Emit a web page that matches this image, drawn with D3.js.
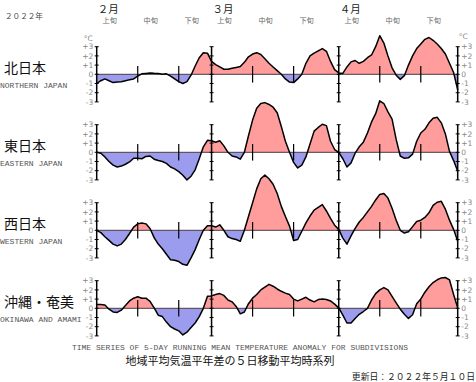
<!DOCTYPE html>
<html><head><meta charset="utf-8">
<script src="https://cdn.jsdelivr.net/npm/d3@7"></script>
<style>body{margin:0;background:#fff}svg{display:block}</style>
</head><body><svg id="c" width="476" height="382"></svg>
<script>
// Daily 5-day running mean anomaly (°C), 2022-02-01 .. 2022-04-30
const north = [-1.0,-0.7,-0.5,-0.7,-0.9,-0.85,-0.8,-0.7,-0.6,-0.5,-0.2,0.05,0.1,0.15,0.12,0.1,0.0,0.05,-0.2,-0.5,
  -0.8,-1.0,-0.8,-0.1,0.9,1.8,2.35,2.3,1.4,1.05,0.8,0.55,0.55,0.65,0.75,0.85,1.3,1.9,2.2,2.35,
  2.15,1.7,1.2,0.8,0.4,0.0,-0.5,-0.85,-0.9,-0.5,0.0,1.2,2.0,2.3,2.55,2.8,2.5,1.4,0.5,0.15,
  0.1,0.8,1.35,1.5,1.2,1.4,1.8,2.1,3.0,4.2,3.4,2.0,0.7,-0.1,-0.55,-0.15,1.0,2.0,2.8,3.3,
  3.8,4.0,3.7,3.3,2.8,2.2,1.2,0.2,-1.7];
const east = [0,-0.1,-0.5,-1.0,-1.4,-1.6,-1.5,-1.3,-1.05,-0.65,-0.65,-0.7,-0.45,-0.4,-0.75,-0.9,-1.0,-1.2,-1.6,-1.8,
  -2.1,-2.5,-3.0,-2.6,-1.9,-0.7,0.6,1.3,1.25,1.1,1.25,0.7,0.0,-0.4,-0.5,-0.75,0.0,1.8,3.5,4.8,
  5.3,5.4,5.2,4.9,4.3,2.8,1.2,0.0,-1.1,-1.7,-1.4,-0.5,0.9,2.3,2.7,3.05,2.9,1.2,0.3,0.0,
  -0.7,-1.6,-1.15,-0.1,0.6,1.1,2.1,3.3,4.2,5.6,5.3,4.4,3.6,1.4,-0.4,-0.65,-0.6,-0.2,1.2,2.1,
  2.5,3.2,3.7,3.8,3.2,2.0,0.1,-0.9,-2.05];
const west = [0,-0.25,-0.7,-1.1,-1.5,-1.7,-1.5,-1.0,-0.35,0.35,0.7,0.8,0.7,0.2,-0.8,-1.5,-2.0,-2.6,-3.2,-3.25,
  -3.4,-3.7,-3.8,-3.0,-2.1,-1.0,0.0,0.5,0.5,0.35,0.6,0.0,-0.7,-0.9,-1.0,-1.2,0.0,1.5,3.0,4.5,
  5.6,6.0,5.6,5.0,4.0,2.6,1.5,0.45,-1.1,-1.0,-0.1,0.8,1.55,2.2,2.5,2.8,2.1,1.3,0.55,0.1,
  -0.85,-1.5,-0.6,0.2,0.9,1.4,2.0,2.6,3.3,3.9,4.0,3.5,2.4,1.1,0.0,-0.3,-0.15,0.4,0.95,1.1,
  1.4,1.9,2.7,3.05,3.15,2.3,1.1,0.1,-1.2];
const okinawa = [0.4,0.4,0.35,-0.1,-0.4,-0.45,-0.2,0.3,0.8,1.1,1.25,1.1,1.1,0.75,0.05,-0.75,-0.9,-1.5,-2.0,-2.25,
  -2.45,-2.9,-2.6,-2.1,-1.6,-0.9,0.0,1.3,1.35,1.5,1.6,1.4,0.9,0.7,0.2,-0.6,-0.4,0.5,1.1,1.5,
  2.0,2.3,2.6,2.4,2.1,1.85,1.65,1.5,1.0,0.8,1.0,1.2,0.9,0.7,0.95,1.0,0.95,0.8,0.45,0.05,
  -0.75,-1.6,-1.6,-1.1,-0.65,-0.35,0.0,0.9,1.6,2.0,2.25,2.0,1.3,0.6,-0.1,-0.65,-1.1,-0.7,0.5,1.0,
  1.75,2.35,2.8,3.1,3.3,3.35,3.1,1.5,0.05];

const regionNames = ["北日本","東日本","西日本","沖縄・奄美"];
const regionNamesEn = ["NORTHERN JAPAN","EASTERN JAPAN","WESTERN JAPAN","OKINAWA AND AMAMI"];
const yTickValues = [3,2,1,0,-1,-2,-3];
const yTickLabels = ["+3","+2","+1","0","-1","-2","-3"];
const monthLabels = ["２月","３月","４月"];
const dekadLabels = ["上旬","中旬","下旬"];
const yearLabel = "２０２２年";
const titleEn = "TIME SERIES OF 5-DAY RUNNING MEAN TEMPERATURE ANOMALY FOR SUBDIVISIONS";
const titleJa = "地域平均気温平年差の５日移動平均時系列";
const updated = "更新日：２０２２年５月１０日";

const series = [north, east, west, okinawa];
const POS = "#ff9c9c", NEG = "#9c9cee";
const JP = "'Noto Sans CJK JP', sans-serif";
const MONO = "'Liberation Mono','DejaVu Sans Mono', monospace";

const svg = d3.select("#c");
const defs = svg.append("defs");
const start = new Date(2022,1,1), end = new Date(2022,3,30);
const x = d3.scaleTime().domain([start,end]).range([96.7,457.7]);
const dateOf = i => d3.timeDay.offset(start, i);
const monthStarts = [new Date(2022,1,1), new Date(2022,2,1), new Date(2022,3,1)];
const axisDates = [start, new Date(2022,2,1), new Date(2022,3,1), end];
const dekadStarts = [];
monthStarts.forEach(m => [1,11,21].forEach((d,k) => dekadStarts.push({date:new Date(2022,m.getMonth(),d), k})));

// header
svg.append("text").attr("x",5).attr("y",19).attr("font-family",JP).attr("font-size",7.6)
  .attr("fill","#444").text(yearLabel);
svg.selectAll(".mon").data(monthStarts).enter().append("text")
  .attr("x",d=>x(d)+1).attr("y",12.5).attr("font-family",JP).attr("font-size",10.5)
  .attr("fill","#222").text((d,i)=>monthLabels[i]);
svg.selectAll(".dek").data(dekadStarts).enter().append("text")
  .attr("x",d=>x(d.date)+13).attr("y",22.5).attr("text-anchor","middle")
  .attr("font-family",JP).attr("font-size",7.2).attr("fill","#666").text(d=>dekadLabels[d.k]);

series.forEach((vals,i)=>{
  const zero = 74.3 + 78*i;
  const y = d3.scaleLinear().domain([-3,3]).range([zero+27.6, zero-27.6]);
  const g = svg.append("g");
  defs.append("clipPath").attr("id","p"+i).append("rect")
    .attr("x",0).attr("y",0).attr("width",476).attr("height",y(0));
  defs.append("clipPath").attr("id","n"+i).append("rect")
    .attr("x",0).attr("y",y(0)).attr("width",476).attr("height",382-y(0));
  const area = d3.area().x((d,j)=>x(dateOf(j))).y0(y(0)).y1(d=>y(d));
  g.append("path").datum(vals).attr("d",area).attr("fill",POS).attr("clip-path",`url(#p${i})`);
  g.append("path").datum(vals).attr("d",area).attr("fill",NEG).attr("clip-path",`url(#n${i})`);
  // zero line
  g.append("line").attr("x1",x(start)).attr("x2",x(end)).attr("y1",y(0)).attr("y2",y(0))
    .attr("stroke","#4a3a3a").attr("stroke-width",1);
  // curve
  g.append("path").datum(vals).attr("d",d3.line().x((d,j)=>x(dateOf(j))).y(d=>y(d)))
    .attr("fill","none").attr("stroke","#000").attr("stroke-width",1.5).attr("stroke-linejoin","round");
  // month axes
  axisDates.forEach(ad=>{
    const ax = x(ad);
    g.append("line").attr("x1",ax).attr("x2",ax).attr("y1",y(3)).attr("y2",y(-3))
      .attr("stroke","#000").attr("stroke-width",1.5);
    g.selectAll(null).data(yTickValues).enter().append("line")
      .attr("x1",ax-2).attr("x2",ax+2).attr("y1",d=>y(d)).attr("y2",d=>y(d))
      .attr("stroke","#000").attr("stroke-width",1);
  });
  // dekad ticks
  g.selectAll(null).data(dekadStarts.filter(d=>d.k>0)).enter().append("line")
    .attr("x1",d=>x(d.date)).attr("x2",d=>x(d.date)).attr("y1",y(0.9)).attr("y2",y(-0.9))
    .attr("stroke","#000").attr("stroke-width",1.2);
  // y labels
  g.selectAll(null).data(yTickValues).enter().append("text")
    .attr("x",x(start)-3.5).attr("y",d=>y(d)).attr("dy","0.35em").attr("text-anchor","end")
    .attr("font-family","'DejaVu Sans', sans-serif").attr("font-size",7.5).attr("fill","#888")
    .text((d,k)=>yTickLabels[k]);
  g.selectAll(null).data(yTickValues).enter().append("text")
    .attr("x",x(end)+3.5).attr("y",d=>y(d)).attr("dy","0.35em").attr("text-anchor","start")
    .attr("font-family","'DejaVu Sans', sans-serif").attr("font-size",7.5).attr("fill","#888")
    .text((d,k)=>yTickLabels[k]);
  if(i===0){
    g.append("text").attr("x",x(start)-4).attr("y",y(3)-6).attr("text-anchor","end")
      .attr("font-family","'DejaVu Sans', sans-serif").attr("font-size",7.5).attr("fill","#888").text("°C");
    g.append("text").attr("x",x(end)+1).attr("y",y(3)-8).attr("text-anchor","start")
      .attr("font-family","'DejaVu Sans', sans-serif").attr("font-size",7.5).attr("fill","#888").text("°C");
  }
  // region names
  g.append("text").attr("x",4).attr("y",zero-6).attr("dy","0.35em")
    .attr("font-family",JP).attr("font-size",14).attr("fill","#111").text(regionNames[i]);
  g.append("text").attr("x",0).attr("y",zero+10.5).attr("dy","0.35em")
    .attr("font-family",MONO).attr("font-size",8).attr("fill","#555").text(regionNamesEn[i]);
});

// footer
svg.append("text").attr("x",240).attr("y",347).attr("dy","0.35em").attr("text-anchor","middle")
  .attr("font-family",MONO).attr("font-size",8).attr("fill","#555").text(titleEn);
svg.append("text").attr("x",230).attr("y",361.5).attr("dy","0.35em").attr("text-anchor","middle")
  .attr("font-family",JP).attr("font-size",11).attr("fill","#111").text(titleJa);
svg.append("text").attr("x",475).attr("y",376.5).attr("dy","0.35em").attr("text-anchor","end")
  .attr("font-family",JP).attr("font-size",8.8).attr("fill","#222").text(updated);
</script></body></html>
